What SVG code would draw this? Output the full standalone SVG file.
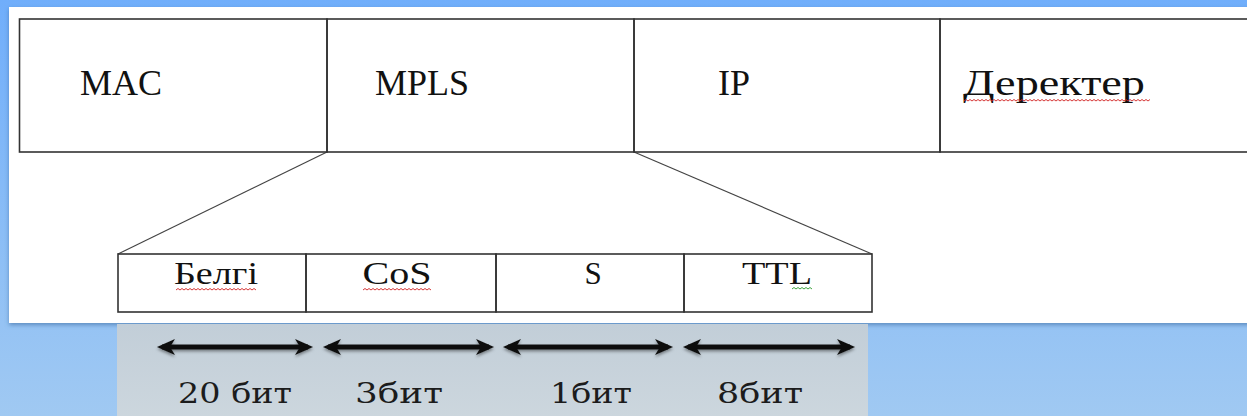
<svg xmlns="http://www.w3.org/2000/svg" width="1247" height="416" viewBox="0 0 1247 416">
<defs>
  <linearGradient id="bg" x1="0" y1="0" x2="0" y2="1">
    <stop offset="0" stop-color="#70aefb"/>
    <stop offset="1" stop-color="#a0c9f2"/>
  </linearGradient>
  <linearGradient id="strip" x1="0" y1="0" x2="0" y2="1">
    <stop offset="0" stop-color="#c2ced8"/>
    <stop offset="1" stop-color="#cdd7de"/>
  </linearGradient>
  <filter id="sh" x="-5%" y="-5%" width="110%" height="115%">
    <feDropShadow dx="0" dy="2" stdDeviation="2" flood-color="#2f5f95" flood-opacity="0.55"/>
  </filter>
  <filter id="ash" filterUnits="userSpaceOnUse" x="140" y="325" width="730" height="45">
    <feDropShadow dx="0" dy="2" stdDeviation="1.8" flood-color="#000" flood-opacity="0.4"/>
  </filter>
  <marker id="ah" viewBox="0 0 18 16" refX="13" refY="8" markerWidth="18" markerHeight="16" markerUnits="userSpaceOnUse" orient="auto-start-reverse">
    <path d="M0,0 L18,8 L0,16 L5,8 z" fill="#111"/>
  </marker>
</defs>
<style>
  .cell { fill: none; stroke: #333; stroke-width: 1.6; }
  .fan { stroke: #444; stroke-width: 1.2; fill: none; }
  .t1 { font-family: "Liberation Serif", serif; font-size: 36px; fill: #111; }
  .t2 { font-family: "Liberation Serif", serif; font-size: 31px; fill: #111; text-anchor: middle; }
  .bit { font-family: "DejaVu Serif", serif; font-size: 28px; fill: #1c1c1c; text-anchor: middle; }
  .arr { stroke: #111; stroke-width: 5; fill: none; marker-start: url(#ah); marker-end: url(#ah); }
  .sq { fill: none; stroke: #d02020; stroke-width: 0.9; }
  .sqg { fill: none; stroke: #2a9a2a; stroke-width: 0.9; }
</style>

<rect x="0" y="0" width="1247" height="416" fill="url(#bg)"/>
<rect x="9" y="7" width="1250" height="316" fill="#fff" filter="url(#sh)"/>
<rect x="117" y="324" width="751" height="100" fill="url(#strip)"/>

<g id="connectors">
  <line class="fan" x1="327" y1="152" x2="118" y2="254"/>
  <line class="fan" x1="634" y1="152" x2="872" y2="254"/>
</g>

<g id="node-mac">
  <rect class="cell" x="19.5" y="19" width="307.5" height="133"/>
  <text class="t1" x="80" y="95">MAC</text>
</g>
<g id="node-mpls">
  <rect class="cell" x="327" y="19" width="307" height="133"/>
  <text class="t1" x="375" y="95">MPLS</text>
</g>
<g id="node-ip">
  <rect class="cell" x="634" y="19" width="306" height="133"/>
  <text class="t1" x="718" y="95">IP</text>
</g>
<g id="node-data">
  <rect class="cell" x="940" y="19" width="330" height="133"/>
  <text class="t1" x="963" y="95" textLength="182" lengthAdjust="spacingAndGlyphs">Деректер</text>
  <path class="sq" d="M964,101 l2,-1.5 l2,1.5 l2,-1.5 l2,1.5 l2,-1.5 l2,1.5 l2,-1.5 l2,1.5 l2,-1.5 l2,1.5 l2,-1.5 l2,1.5 l2,-1.5 l2,1.5 l2,-1.5 l2,1.5 l2,-1.5 l2,1.5 l2,-1.5 l2,1.5 l2,-1.5 l2,1.5 l2,-1.5 l2,1.5 l2,-1.5 l2,1.5 l2,-1.5 l2,1.5 l2,-1.5 l2,1.5 l2,-1.5 l2,1.5 l2,-1.5 l2,1.5 l2,-1.5 l2,1.5 l2,-1.5 l2,1.5 l2,-1.5 l2,1.5 l2,-1.5 l2,1.5 l2,-1.5 l2,1.5 l2,-1.5 l2,1.5 l2,-1.5 l2,1.5 l2,-1.5 l2,1.5 l2,-1.5 l2,1.5 l2,-1.5 l2,1.5 l2,-1.5 l2,1.5 l2,-1.5 l2,1.5 l2,-1.5 l2,1.5 l2,-1.5 l2,1.5 l2,-1.5 l2,1.5 l2,-1.5 l2,1.5 l2,-1.5 l2,1.5 l2,-1.5 l2,1.5 l2,-1.5 l2,1.5 l2,-1.5 l2,1.5 l2,-1.5 l2,1.5 l2,-1.5 l2,1.5 l2,-1.5 l2,1.5 l2,-1.5 l2,1.5 l2,-1.5 l2,1.5 l2,-1.5 l2,1.5 l2,-1.5 l2,1.5 l2,-1.5 l2,1.5 l2,-1.5 l2,1.5 l2,-1.5"/>
</g>

<g id="node-label">
  <rect class="cell" x="118" y="254" width="188" height="58"/>
  <text class="t2" x="216" y="284" textLength="84" lengthAdjust="spacingAndGlyphs">Белгі</text>
  <path class="sq" d="M176,290 l2,-1.5 l2,1.5 l2,-1.5 l2,1.5 l2,-1.5 l2,1.5 l2,-1.5 l2,1.5 l2,-1.5 l2,1.5 l2,-1.5 l2,1.5 l2,-1.5 l2,1.5 l2,-1.5 l2,1.5 l2,-1.5 l2,1.5 l2,-1.5 l2,1.5 l2,-1.5 l2,1.5 l2,-1.5 l2,1.5 l2,-1.5 l2,1.5 l2,-1.5 l2,1.5 l2,-1.5 l2,1.5 l2,-1.5 l2,1.5 l2,-1.5 l2,1.5 l2,-1.5 l2,1.5 l2,-1.5 l2,1.5 l2,-1.5 l2,1.5"/>
</g>
<g id="node-cos">
  <rect class="cell" x="306" y="254" width="190" height="58"/>
  <text class="t2" x="397" y="284" textLength="69" lengthAdjust="spacingAndGlyphs">CoS</text>
  <path class="sq" d="M363,290 l2,-1.5 l2,1.5 l2,-1.5 l2,1.5 l2,-1.5 l2,1.5 l2,-1.5 l2,1.5 l2,-1.5 l2,1.5 l2,-1.5 l2,1.5 l2,-1.5 l2,1.5 l2,-1.5 l2,1.5 l2,-1.5 l2,1.5 l2,-1.5 l2,1.5 l2,-1.5 l2,1.5 l2,-1.5 l2,1.5 l2,-1.5 l2,1.5 l2,-1.5 l2,1.5 l2,-1.5 l2,1.5 l2,-1.5 l2,1.5 l2,-1.5 l2,1.5"/>
</g>
<g id="node-s">
  <rect class="cell" x="496" y="254" width="188" height="58"/>
  <text class="t2" x="593" y="284">S</text>
</g>
<g id="node-ttl">
  <rect class="cell" x="684" y="254" width="188" height="58"/>
  <text class="t2" x="777" y="284" textLength="70" lengthAdjust="spacingAndGlyphs">TTL</text>
  <path class="sqg" d="M792,289 l2,-1.5 l2,1.5 l2,-1.5 l2,1.5 l2,-1.5 l2,1.5 l2,-1.5 l2,1.5 l2,-1.5 l2,1.5"/>
</g>

<g id="bit-arrows" filter="url(#ash)">
  <line class="arr" x1="162" y1="347" x2="308" y2="347"/>
  <line class="arr" x1="328" y1="347" x2="489" y2="347"/>
  <line class="arr" x1="508" y1="347" x2="668" y2="347"/>
  <line class="arr" x1="688" y1="347" x2="850" y2="347"/>
</g>

<g id="bit-labels">
  <text class="bit" x="235" y="403" textLength="114" lengthAdjust="spacingAndGlyphs">20 бит</text>
  <text class="bit" x="399" y="403" textLength="88" lengthAdjust="spacingAndGlyphs">3бит</text>
  <text class="bit" x="591" y="403" textLength="82" lengthAdjust="spacingAndGlyphs">1бит</text>
  <text class="bit" x="760" y="403" textLength="86" lengthAdjust="spacingAndGlyphs">8бит</text>
</g>
</svg>
